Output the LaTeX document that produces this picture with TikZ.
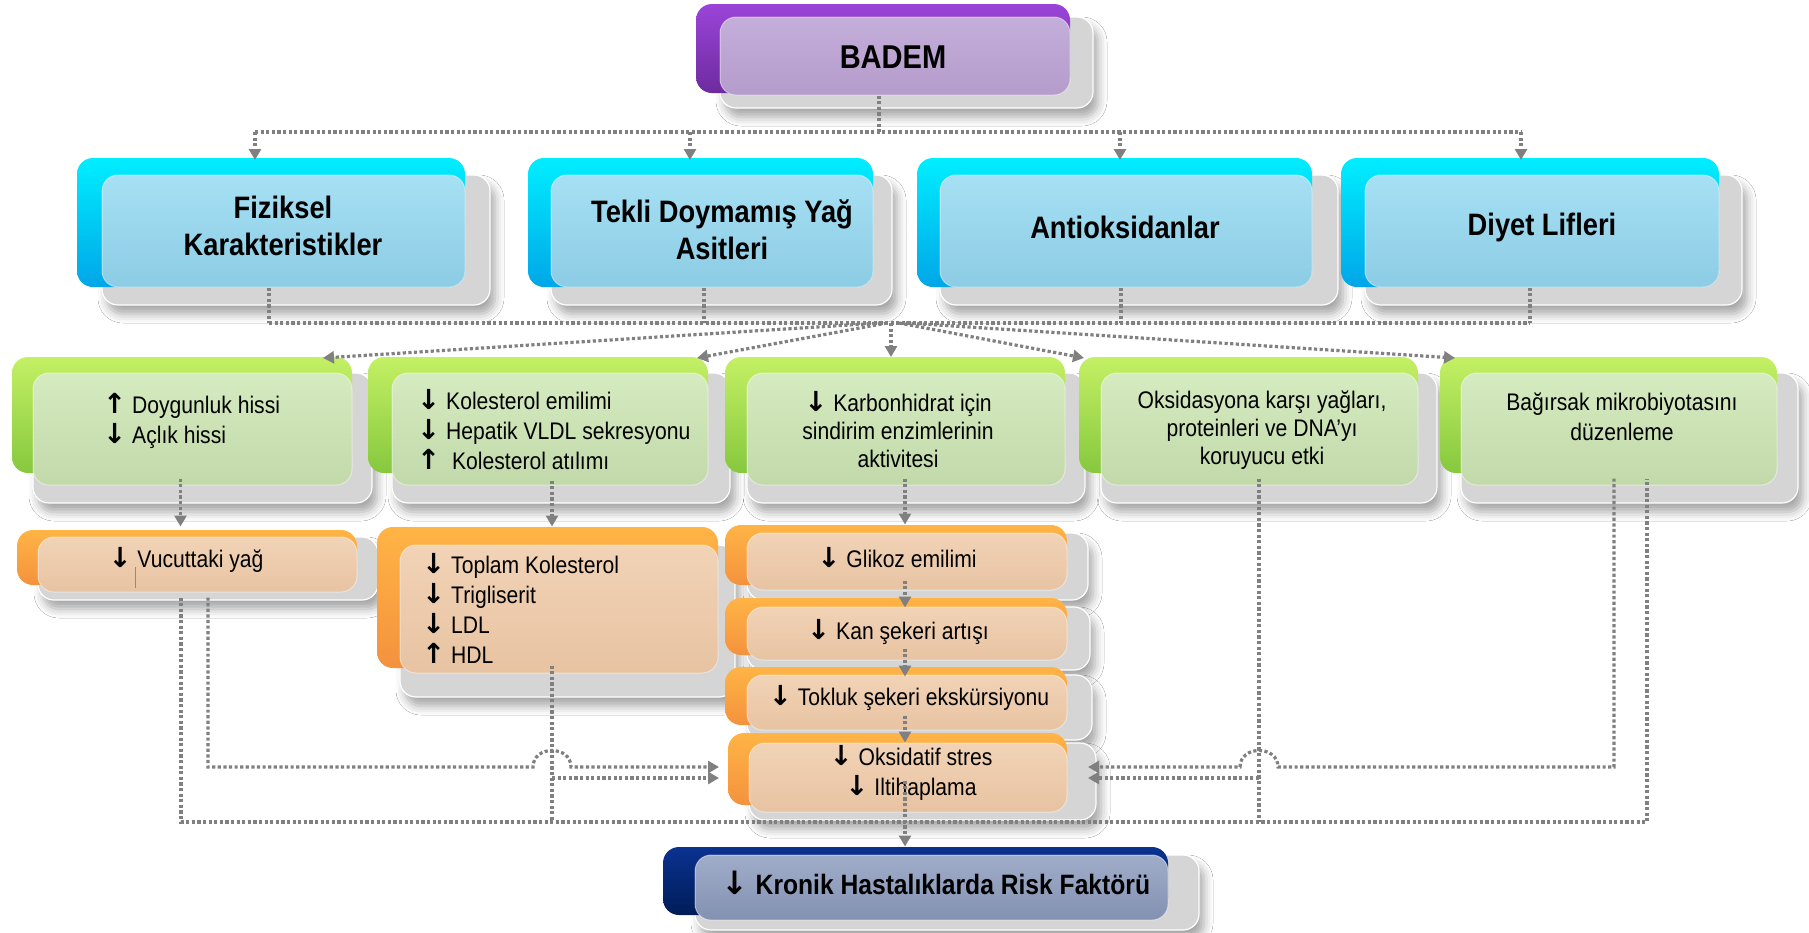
\documentclass[tikz,border=0pt]{standalone}
\usepackage{fontspec}
\setmainfont{Liberation Sans}[FakeStretch=0.88]
\newfontfamily\arrowfont{DejaVu Sans Bold}
\usetikzlibrary{arrows.meta,fit,shadows.blur}

% palettes: saturated backing, pale glass face
\definecolor{purpletop}{HTML}{9A44D8}
\definecolor{purplebot}{HTML}{6E2B9E}
\definecolor{purplefacetop}{HTML}{C4AEDA}
\definecolor{purplefacebot}{HTML}{B59CCB}
\definecolor{bluetop}{HTML}{00EEFF}
\definecolor{bluebot}{HTML}{00A6E8}
\definecolor{bluefacetop}{HTML}{A6E0F4}
\definecolor{bluefacebot}{HTML}{8CCCE4}
\definecolor{greentop}{HTML}{C4F064}
\definecolor{greenbot}{HTML}{86C83E}
\definecolor{greenfacetop}{HTML}{D5EBC0}
\definecolor{greenfacebot}{HTML}{C2D9AA}
\definecolor{orangetop}{HTML}{FFB445}
\definecolor{orangebot}{HTML}{F4923E}
\definecolor{orangefacetop}{HTML}{F2D3B6}
\definecolor{orangefacebot}{HTML}{E7C3A2}
\definecolor{navytop}{HTML}{0A3290}
\definecolor{navybot}{HTML}{001C58}
\definecolor{navyfacetop}{HTML}{A0ADC9}
\definecolor{navyfacebot}{HTML}{8391B2}
\definecolor{shellgray}{HTML}{D5D5D5}
\definecolor{linkgray}{HTML}{808080}

% heavy up/down arrows used inside the labels
\newcommand\DnA{{\arrowfont\scalebox{1.15}{↓}}}
\newcommand\UpA{{\arrowfont\scalebox{1.15}{↑}}}

\begin{document}
\begin{tikzpicture}[x=1pt,y=-1pt,
  glassshell/.style={rounded corners=16pt, fill=shellgray, draw=white, line width=1.2pt,
    blur shadow={shadow xshift=5pt, shadow yshift=-9pt, shadow blur radius=9pt, shadow opacity=35}},
  glassback/.style={rounded corners=16pt, top color=#1top, bottom color=#1bot},
  glassface/.style={rounded corners=16pt, top color=#1facetop, bottom color=#1facebot,
    inner sep=0pt, draw=white, draw opacity=0.45, line width=1pt},
  txt/.style={font=\fontsize{24pt}{30pt}\selectfont, inner sep=0pt, align=center, text=black},
  hdr/.style={font=\bfseries\fontsize{31pt}{37pt}\selectfont, inner sep=0pt, align=center, text=black},
  link/.style={draw=linkgray, line width=3.2pt, dash pattern=on 3.2pt off 2.4pt},
  linkarrow/.style={link, -{Triangle[length=11pt,width=12pt,fill=linkgray]}},
]
\useasboundingbox (0,0) rectangle (1809,932);
\fill[white] (0,0) rectangle (1809,932);

% ---------- top ----------
\path[glassshell] (720,17) rectangle (1093,108);
\path[glassback=purple] (696,4) rectangle (1070,93);
\node[glassface=purple, fit={(720,17)(1070,95)}] (badem) {};
\node[hdr, font=\bfseries\fontsize{33pt}{38pt}\selectfont] (badem-t) at (893,57) {BADEM};

% ---------- components ----------
\path[glassshell] (102,175) rectangle (490,305);
\path[glassback=blue] (77,158) rectangle (465,287);
\node[glassface=blue, fit={(102,175)(465,287)}] (fiz) {};
\node[hdr] (fiz-t) at (283,226) {Fiziksel\\Karakteristikler};

\path[glassshell] (551,175) rectangle (892,305);
\path[glassback=blue] (528,158) rectangle (873,287);
\node[glassface=blue, fit={(551,175)(873,287)}] (tekli) {};
\node[hdr] (tekli-t) at (722,230) {Tekli Doymamış Yağ\\Asitleri};

\path[glassshell] (940,175) rectangle (1338,305);
\path[glassback=blue] (917,158) rectangle (1312,287);
\node[glassface=blue, fit={(940,175)(1312,287)}] (antiox) {};
\node[hdr] (antiox-t) at (1125,227) {Antioksidanlar};

\path[glassshell] (1365,175) rectangle (1742,305);
\path[glassback=blue] (1341,158) rectangle (1719,287);
\node[glassface=blue, fit={(1365,175)(1719,287)}] (lif) {};
\node[hdr] (lif-t) at (1542,227) {Diyet Lifleri};

% ---------- mechanisms ----------
\path[glassshell] (33,373) rectangle (372,503);
\path[glassback=green] (12,357) rectangle (352,473);
\node[glassface=green, fit={(33,373)(352,485)}] (doy) {};
\node[txt, align=left, anchor=west] (doy-t) at (103,421) {\UpA{} Doygunluk hissi\\\DnA{} Açlık hissi};

\path[glassshell] (392,373) rectangle (730,503);
\path[glassback=green] (368,357) rectangle (708,473);
\node[glassface=green, fit={(392,373)(708,485)}] (kol) {};
\node[txt, align=left, anchor=west] (kol-t) at (417,430) {\DnA{} Kolesterol emilimi\\\DnA{} Hepatik VLDL sekresyonu\\\UpA{}\ \ Kolesterol atılımı};

\path[glassshell] (747,373) rectangle (1085,503);
\path[glassback=green] (725,357) rectangle (1065,473);
\node[glassface=green, fit={(747,373)(1065,485)}] (karb) {};
\node[txt, font=\fontsize{24pt}{28pt}\selectfont] (karb-t) at (898,430) {\DnA{} Karbonhidrat için\\sindirim enzimlerinin\\aktivitesi};

\path[glassshell] (1101,373) rectangle (1437,503);
\path[glassback=green] (1079,357) rectangle (1418,473);
\node[glassface=green, fit={(1101,373)(1418,485)}] (oks) {};
\node[txt, font=\fontsize{24pt}{28pt}\selectfont] (oks-t) at (1262,430) {Oksidasyona karşı yağları,\\proteinleri ve DNA’yı\\koruyucu etki};

\path[glassshell] (1461,373) rectangle (1798,503);
\path[glassback=green] (1440,357) rectangle (1777,473);
\node[glassface=green, fit={(1461,373)(1777,485)}] (bag) {};
\node[txt] (bag-t) at (1622,417) {Bağırsak mikrobiyotasını\\düzenleme};

% ---------- effects ----------
\path[glassshell] (38,537) rectangle (378,600);
\path[glassback=orange] (17,530) rectangle (357,585);
\node[glassface=orange, fit={(38,537)(357,592)}] (vuc) {};
\node[txt] (vuc-t) at (186,560) {\DnA{} Vucuttaki yağ};
\draw[black!45, line width=0.8pt] (135,567) -- (135,588);

\path[glassshell] (400,545) rectangle (735,697);
\path[glassback=orange] (377,527) rectangle (718,668);
\node[glassface=orange, fit={(400,545)(718,673)}] (top) {};
\node[txt, align=left, anchor=west] (top-t) at (422,608) {\DnA{} Toplam Kolesterol\\\DnA{} Trigliserit\\\DnA{} LDL\\\UpA{} HDL};

\path[glassshell] (747,533) rectangle (1088,600);
\path[glassback=orange] (725,525) rectangle (1067,585);
\node[glassface=orange, fit={(747,533)(1067,590)}] (gli) {};
\node[txt] (gli-t) at (897,558) {\DnA{} Glikoz emilimi};

\path[glassshell] (747,607) rectangle (1090,670);
\path[glassback=orange] (725,598) rectangle (1067,655);
\node[glassface=orange, fit={(747,607)(1067,660)}] (kan) {};
\node[txt] (kan-t) at (898,632) {\DnA{} Kan şekeri artışı};

\path[glassshell] (747,675) rectangle (1092,740);
\path[glassback=orange] (725,667) rectangle (1067,725);
\node[glassface=orange, fit={(747,675)(1067,730)}] (tok) {};
\node[txt] (tok-t) at (909,698) {\DnA{} Tokluk şekeri ekskürsiyonu};

\path[glassshell] (749,743) rectangle (1096,820);
\path[glassback=orange] (728,733) rectangle (1067,805);
\node[glassface=orange, fit={(749,743)(1067,812)}] (oksst) {};
\node[txt] (oksst-t) at (911,773) {\DnA{} Oksidatif stres\\\DnA{} Iltihaplama};

% ---------- outcome ----------
\path[glassshell] (695,855) rectangle (1199,930);
\path[glassback=navy] (663,847) rectangle (1168,915);
\node[glassface=navy, fit={(695,855)(1168,920)}] (kron) {};
\node[hdr, font=\bfseries\fontsize{28pt}{32pt}\selectfont] (kron-t) at (936,883) {\DnA{} Kronik Hastalıklarda Risk Faktörü};

% ---------- connectors: top tree ----------
\coordinate (t0) at (879,132);
\coordinate (t1) at (255,132);
\coordinate (t2) at (690,132);
\coordinate (t3) at (1120,132);
\coordinate (t4) at (1521,132);
\draw[link] (badem.south -| t0) -- (t0);
\draw[link] (t1) -- (t4);
\foreach \c in {t1,t2,t3,t4} \draw[linkarrow] (\c) -- ++(0,28);

% ---------- connectors: components to mechanisms ----------
\coordinate (m1) at (269,323);
\coordinate (m2) at (704,323);
\coordinate (m3) at (1121,323);
\coordinate (m4) at (1530,323);
\draw[link] (fiz.south -| m1) -- (m1);
\draw[link] (tekli.south -| m2) -- (m2);
\draw[link] (antiox.south -| m3) -- (m3);
\draw[link] (lif.south -| m4) -- (m4);
\draw[link] (m1) -- (m4);
\coordinate (hub) at (893,323);
\coordinate (f1) at (323,358);
\coordinate (f2) at (697,358);
\coordinate (f3) at (891,357);
\coordinate (f4) at (1084,358);
\coordinate (f5) at (1455,358);
\draw[linkarrow] ([xshift=-12pt]hub) -- (f1);
\draw[linkarrow] ([xshift=-6pt]hub) -- (f2);
\draw[linkarrow] ([xshift=-2pt]hub) -- (f3);
\draw[linkarrow] ([xshift=6pt]hub) -- (f4);
\draw[linkarrow] ([xshift=13pt]hub) -- (f5);

% ---------- connectors: mechanisms to effects ----------
\draw[linkarrow] ([xshift=-12pt,yshift=7pt]doy.south) -- ([xshift=-12pt,yshift=10pt]doy.south |- vuc.north);
\draw[linkarrow] ([xshift=2pt,yshift=5pt]kol.south) -- ([xshift=2pt,yshift=18pt]kol.south |- top.north);
\draw[linkarrow] ([xshift=-1pt,yshift=7pt]karb.south) -- ([xshift=-1pt,yshift=8pt]karb.south |- gli.north);
\draw[linkarrow] ([xshift=-2pt,yshift=10pt]gli.south) -- ([xshift=-2pt,yshift=-1pt]gli.south |- kan.north);
\draw[linkarrow] ([xshift=-2pt,yshift=12pt]kan.south) -- ([xshift=-2pt,yshift=-2pt]kan.south |- tok.north);
\draw[linkarrow] ([xshift=-2pt,yshift=15pt]tok.south) -- ([xshift=-2pt]tok.south |- oksst.north);
\draw[linkarrow] ([xshift=-3pt,yshift=32pt]oksst.south) -- ([xshift=-3pt,yshift=8pt]oksst.south |- kron.north);

% ---------- connectors: feedback into oxidative stress ----------
\coordinate (busL) at (181,822);
\coordinate (busR) at (1647,822);
\coordinate (hopL) at (208,767);
\coordinate (j1) at (552,767);
\coordinate (j2) at (1259,767);
\coordinate (c5) at (1614,767);
\coordinate (oksL1) at (719,767);
\coordinate (oksL2) at (719,778);
\coordinate (oksR1) at (1088,767);
\coordinate (oksR2) at (1088,778);

\draw[link] ([yshift=-5pt]vuc.south -| busL) -- (busL) -- (busR) -- ([yshift=7pt]bag.south -| busR);
\draw[linkarrow] ([yshift=-5pt]vuc.south -| hopL) -- (hopL) -- ([xshift=-19pt]j1)
  .. controls ([xshift=-19pt,yshift=22pt]j1) and ([xshift=19pt,yshift=22pt]j1) .. ([xshift=19pt]j1) -- (oksL1);
\draw[link] ([yshift=8pt]top.south -| j1) -- (j1 |- busL);
\draw[linkarrow] (j1 |- oksL2) -- (oksL2);

\draw[link] ([yshift=7pt]oks.south -| j2) -- (j2 |- busR);
\draw[linkarrow] (j2 |- oksR2) -- (oksR2);
\draw[linkarrow] ([yshift=7pt]bag.south -| c5) -- (c5) -- ([xshift=19pt]j2)
  .. controls ([xshift=19pt,yshift=22pt]j2) and ([xshift=-19pt,yshift=22pt]j2) .. ([xshift=-19pt]j2) -- (oksR1);
\end{tikzpicture}
\end{document}
